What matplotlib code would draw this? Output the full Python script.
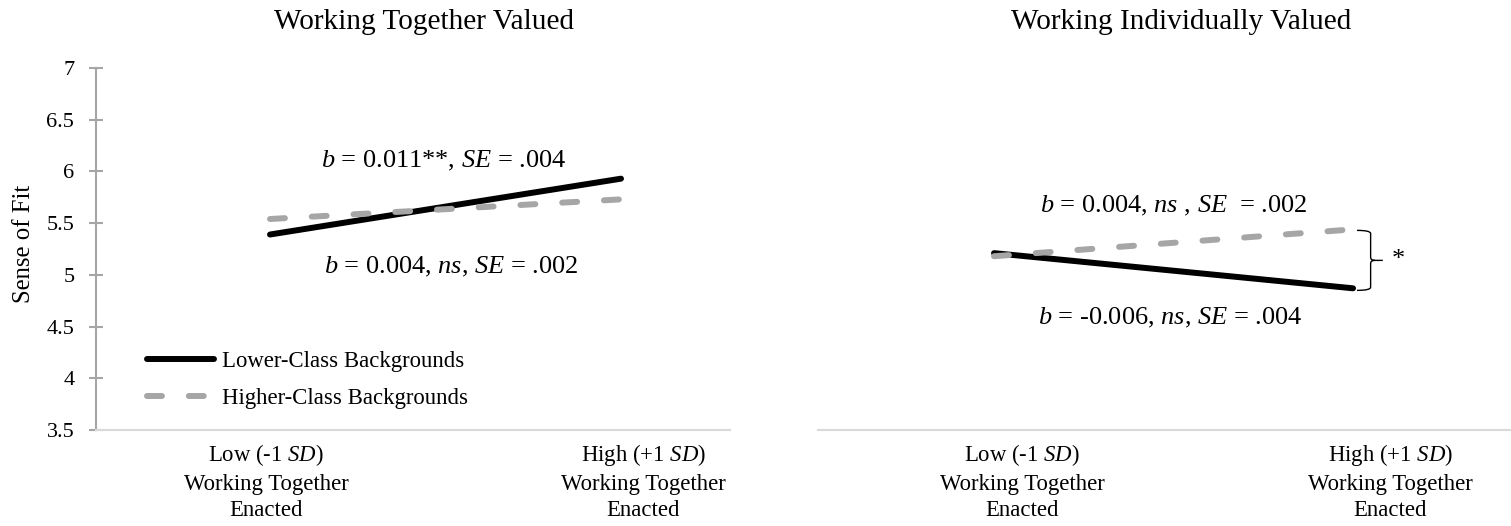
import matplotlib
matplotlib.use("Agg")
import matplotlib.pyplot as plt
from matplotlib.path import Path
from matplotlib.patches import PathPatch

plt.rcParams['font.family'] = ['Liberation Serif', 'DejaVu Serif']
plt.rcParams['mathtext.fontset'] = 'custom'
plt.rcParams['mathtext.rm'] = 'Liberation Serif'
plt.rcParams['mathtext.it'] = 'Liberation Serif:italic'
plt.rcParams['mathtext.bf'] = 'Liberation Serif:bold'

# ---- data ----
x_levels = [0, 1]
tick_labels = ["Low (-1 $\\mathit{SD}$)\nWorking Together\nEnacted",
               "High (+1 $\\mathit{SD}$)\nWorking Together\nEnacted"]
series_names = ["Lower-Class Backgrounds", "Higher-Class Backgrounds"]
panel_titles = ["Working Together Valued", "Working Individually Valued"]

together_lower = [5.39, 5.93]
together_higher = [5.54, 5.73]
individual_lower = [5.21, 4.87]
individual_higher = [5.18, 5.44]

together_notes = ["$\\mathit{b}$ = 0.011**, $\\mathit{SE}$ = .004",
                  "$\\mathit{b}$ = 0.004, $\\mathit{ns}$, $\\mathit{SE}$ = .002"]
individual_notes = ["$\\mathit{b}$ = 0.004, $\\mathit{ns}$ , $\\mathit{SE}$  = .002",
                    "$\\mathit{b}$ = -0.006, $\\mathit{ns}$, $\\mathit{SE}$ = .004"]

y_ticks = [3.5, 4, 4.5, 5, 5.5, 6, 6.5, 7]
y_tick_labels = ["3.5", "4", "4.5", "5", "5.5", "6", "6.5", "7"]

# ---- figure layout (pixels) ----
W, H = 1511, 526
fig = plt.figure(figsize=(W / 100, H / 100), dpi=100)
bottom = (H - 430) / H
height = 362 / H
ax1 = fig.add_axes([96 / W, bottom, (730 - 96) / W, height])
ax2 = fig.add_axes([818 / W, bottom, (W - 818) / W, height])

BLACK = "black"
GRAY = "#A6A6A6"
LW = 4.3
DASH = (0, (2.5, 4.5))


def draw_pair(ax, lower, higher):
    l1, = ax.plot(x_levels, lower, color=BLACK, lw=LW, solid_capstyle='round',
                  label=series_names[0], zorder=3)
    l2, = ax.plot(x_levels, higher, color=GRAY, lw=LW, linestyle=DASH,
                  dash_capstyle='round', label=series_names[1], zorder=4)
    return l1, l2


for ax in (ax1, ax2):
    ax.set_ylim(3.5, 7)
    for s in ("top", "right"):
        ax.spines[s].set_visible(False)
    ax.spines["bottom"].set_color("#D9D9D9")
    ax.spines["bottom"].set_linewidth(1.5)
    ax.tick_params(axis='x', length=0, pad=8.6, labelsize=16.4)
    ax.set_facecolor("none")

# left panel
ax1.set_xlim(-0.4957, 1.3105)
ax1.spines["left"].set_color(GRAY)
ax1.spines["left"].set_linewidth(1.5)
ax1.set_yticks(y_ticks)
ax1.set_yticklabels(y_tick_labels)
ax1.tick_params(axis='y', direction='inout', length=10, width=1.5, color=GRAY,
                pad=10.6, labelsize=16)
ax1.set_xticks([-0.011, 1.063])
ax1.set_xticklabels(tick_labels, linespacing=1.36)
ax1.set_ylabel("Sense of Fit", fontsize=17.8)
ax1.yaxis.set_label_coords(-0.096, 0.514)
h1, h2 = draw_pair(ax1, together_lower, together_higher)
ax1.text(0.496, 6.034, together_notes[0], ha='center', va='baseline', fontsize=19)
ax1.text(0.517, 5.015, together_notes[1], ha='center', va='baseline', fontsize=19)
ax1.legend(handles=[h1, h2], loc='center left', bbox_to_anchor=(0.0804, 0.138),
           frameon=False, handlelength=2.94, handletextpad=0.35,
           labelspacing=0.7, borderpad=0, borderaxespad=0, fontsize=16.4)

# right panel
ax2.set_xlim(-0.4903, 1.440)
ax2.spines["left"].set_visible(False)
ax2.set_yticks([])
ax2.set_xticks([0.078, 1.103])
ax2.set_xticklabels(tick_labels, linespacing=1.36)
draw_pair(ax2, individual_lower, individual_higher)
ax2.text(0.501, 5.60, individual_notes[0], ha='center', va='baseline', fontsize=19)
ax2.text(0.49, 4.525, individual_notes[1], ha='center', va='baseline', fontsize=19)

# curly brace between the two line ends of the right panel
top_v = individual_higher[1] - 0.01
bot_v = individual_lower[1] - 0.02
mid_v = (top_v + bot_v) / 2
xa, xb, xc = 1.011, 1.049, 1.083
r = 0.03
verts = [(xa, top_v), (xb, top_v), (xb, top_v - r),
         (xb, mid_v + r), (xb, mid_v), (xb + 0.012, mid_v),
         (xc, mid_v),
         (xb + 0.012, mid_v), (xb, mid_v), (xb, mid_v - r),
         (xb, bot_v + r), (xb, bot_v), (xa, bot_v)]
codes = [Path.MOVETO, Path.CURVE3, Path.CURVE3,
         Path.LINETO, Path.CURVE3, Path.CURVE3,
         Path.LINETO,
         Path.MOVETO, Path.CURVE3, Path.CURVE3,
         Path.LINETO, Path.CURVE3, Path.CURVE3]
ax2.add_patch(PathPatch(Path(verts, codes), fill=False, lw=1.0, color='black',
                        clip_on=False))
ax2.text(1.125, mid_v, "*", ha='center', va='center', fontsize=19)

# panel titles
fig.text(424 / W, (H - 29.3) / H, panel_titles[0], ha='center', va='baseline',
         fontsize=21.1)
fig.text(1181 / W, (H - 29.3) / H, panel_titles[1], ha='center', va='baseline',
         fontsize=21.1)

fig.savefig("out.png", dpi=100, facecolor='white')
